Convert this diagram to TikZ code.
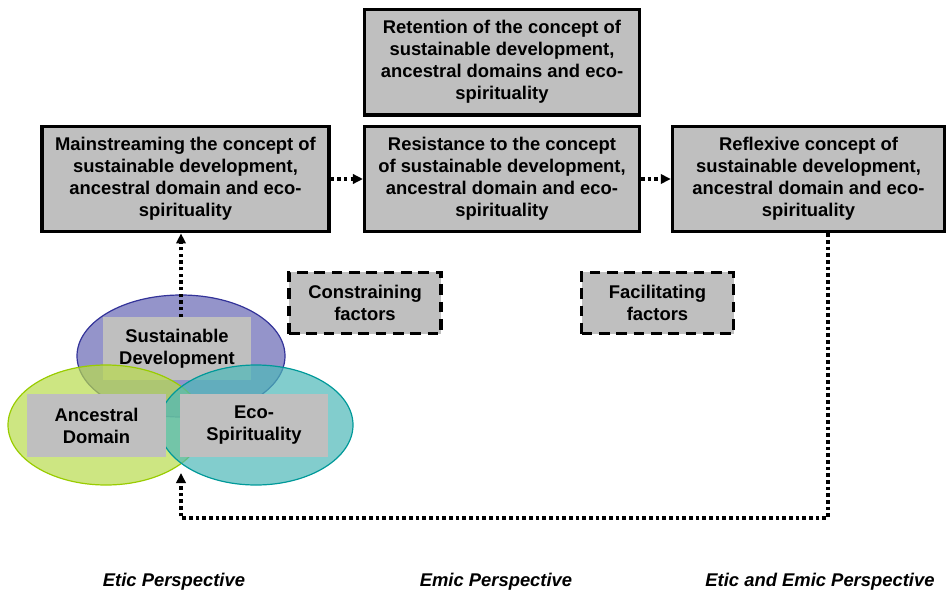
\documentclass[tikz,border=0pt]{standalone}
\usepackage{fontspec}
\setmainfont{Liberation Sans}
\usetikzlibrary{arrows.meta,positioning,shapes.geometric}

\definecolor{boxgrey}{HTML}{BFBFBF}
\definecolor{sdfill}{HTML}{6666B3}
\definecolor{sdline}{HTML}{333399}
\definecolor{adfill}{HTML}{B8DB4D}
\definecolor{adline}{HTML}{99CC00}
\definecolor{esfill}{HTML}{4DB8B8}
\definecolor{esline}{HTML}{009999}

\begin{document}
\begin{tikzpicture}[x=0.75pt, y=-0.75pt,
    box/.style={draw, line width=2.6pt, fill=boxgrey, align=center,
                font=\bfseries\fontsize{13.8}{16.5}\selectfont,
                minimum width=206pt, minimum height=79pt, inner sep=1pt},
    factor/.style={draw, line width=2.6pt, dash pattern=on 8pt off 5pt,
                   fill=boxgrey, align=center,
                   font=\bfseries\fontsize{13.8}{16.5}\selectfont,
                   minimum width=114pt, minimum height=46pt},
    venn/.style={fill opacity=0.7, line width=0.9pt},
    label/.style={fill=boxgrey, align=center,
                  font=\bfseries\fontsize{13.8}{16.5}\selectfont,
                  minimum height=47pt, inner sep=1pt},
    persp/.style={font=\bfseries\itshape\fontsize{13.8}{16}\selectfont},
    dar/.style={-{Triangle[length=7.5pt, width=7pt]}, line width=2.6pt,
                dash pattern=on 2.6pt off 2.4pt}
  ]
  \useasboundingbox (0,0) rectangle (949,589);

  % the three circles
  \draw[venn, sdline, fill=sdfill] (181,356) ellipse [x radius=104, y radius=61];
  \node[label, minimum width=111pt] (sd) at (177,348.5) {Sustainable\\Development};
  \draw[venn, adline, fill=adfill] (106,425) ellipse [x radius=98, y radius=60];
  \draw[venn, esline, fill=esfill] (256,425) ellipse [x radius=97, y radius=60];
  \node[label, minimum width=104pt] (ad) at (96.5,425.5) {Ancestral\\Domain};
  \node[label, minimum width=111pt] (es) at (254,425.5) {Eco-\\Spirituality};

  % the concept boxes
  \node[box, minimum width=215pt] (main) at (185.5,179)
       {Mainstreaming the concept of\\sustainable development,\\ancestral domain and eco-\\spirituality};
  \node[box] (resist) at (502,179)
       {Resistance to the concept\\of sustainable development,\\ancestral domain and eco-\\spirituality};
  \node[box, above=6pt of resist] (retain)
       {Retention of the concept of\\sustainable development,\\ancestral domains and eco-\\spirituality};
  \node[box, minimum width=204pt] (reflex) at (808.5,179)
       {Reflexive concept of\\sustainable development,\\ancestral domain and eco-\\spirituality};

  \node[factor] (constr) at (365,303) {Constraining\\factors};
  \node[factor] (facil) at (657.5,303) {Facilitating\\factors};

  % arrows
  \coordinate (sdtop) at (181,317);
  \coordinate (vennbot) at (181,473);
  \coordinate (loopbot) at (828,518);
  \draw[dar] (main) -- (resist);
  \draw[dar] (resist) -- (reflex);
  \draw[dar] (sdtop) -- (main.south -| sdtop);
  \draw[dar] (reflex.south -| loopbot) -- (loopbot) -| (vennbot);

  % perspectives
  \node[persp] (etic) at (174,582) {Etic Perspective};
  \node[persp] (emic) at (496,582) {Emic Perspective};
  \node[persp] (both) at (820,582) {Etic and Emic Perspective};
\end{tikzpicture}
\end{document}
